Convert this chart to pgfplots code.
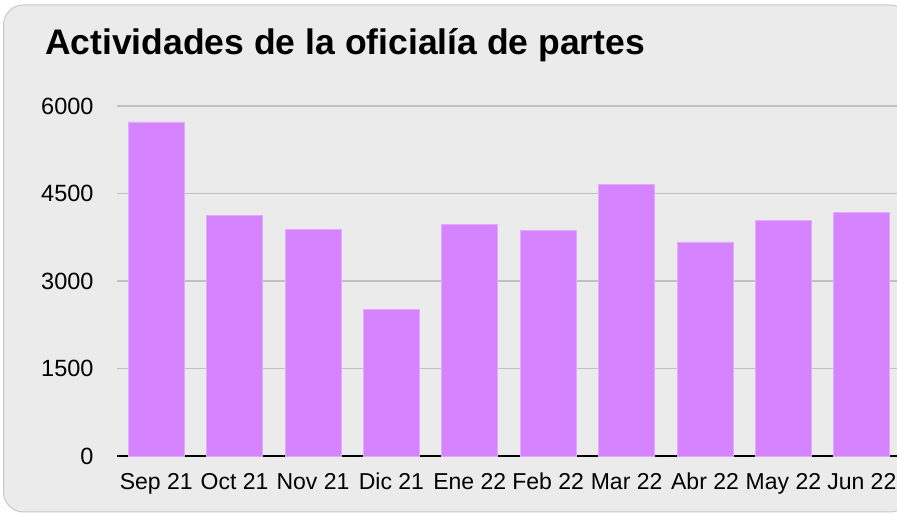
\documentclass[border=0pt]{standalone}
\usepackage{fontspec}
\setmainfont{Liberation Sans}
\usepackage{pgfplots}
\pgfplotsset{compat=1.18}
\definecolor{bg}{RGB}{235,235,235}
\definecolor{barc}{RGB}{214,131,255}
\definecolor{barb}{RGB}{226,170,255}
\definecolor{gridc}{RGB}{192,192,192}
\definecolor{framec}{RGB}{200,200,200}
\begin{document}
\begin{tikzpicture}[x=1pt,y=1pt]
\useasboundingbox (0,0) rectangle (897,514);
\clip (0,0) rectangle (897,514);
\fill[white] (0,0) rectangle (897,514);
\draw[fill=bg, draw=framec, line width=1pt, rounded corners=20pt] (3.5,2) rectangle (910,509);
\node[anchor=base west, font=\fontsize{35.5}{40}\selectfont\bfseries, inner sep=0] at (45,459) {Actividades de la oficialía de partes};
\begin{axis}[
  at={(117pt,58pt)}, anchor=south west,
  scale only axis, width=784pt, height=350pt,
  xmin=-0.5, xmax=9.5, ymin=0, ymax=6000,
  enlargelimits=false,
  ybar, bar width=56pt,
  ytick={0,1500,3000,4500,6000},
  xtick={0,...,9},
  xticklabels={Sep 21,Oct 21,Nov 21,Dic 21,Ene 22,Feb 22,Mar 22,Abr 22,May 22,Jun 22},
  axis x line*=bottom, axis y line*=left,
  y axis line style={draw=none},
  x axis line style={black, line width=2pt, -},
  major tick length=0pt,
  ymajorgrids, grid style={gridc, line width=1.5pt},
  /pgf/number format/assume math mode=true,
  /pgf/number format/set thousands separator={},
  yticklabel style={font=\fontsize{23.5}{26}\selectfont, anchor=east, xshift=-20pt},
  xticklabel style={font=\fontsize{23}{26}\selectfont, anchor=base, yshift=-34pt, inner sep=0pt},
]
\addplot[fill=barc, draw=barb, line width=0.8pt] coordinates {
  (0,5726) (1,4119) (2,3886) (3,2509) (4,3971) (5,3869) (6,4651) (7,3669) (8,4034) (9,4177)
};
\end{axis}
\end{tikzpicture}
\end{document}
